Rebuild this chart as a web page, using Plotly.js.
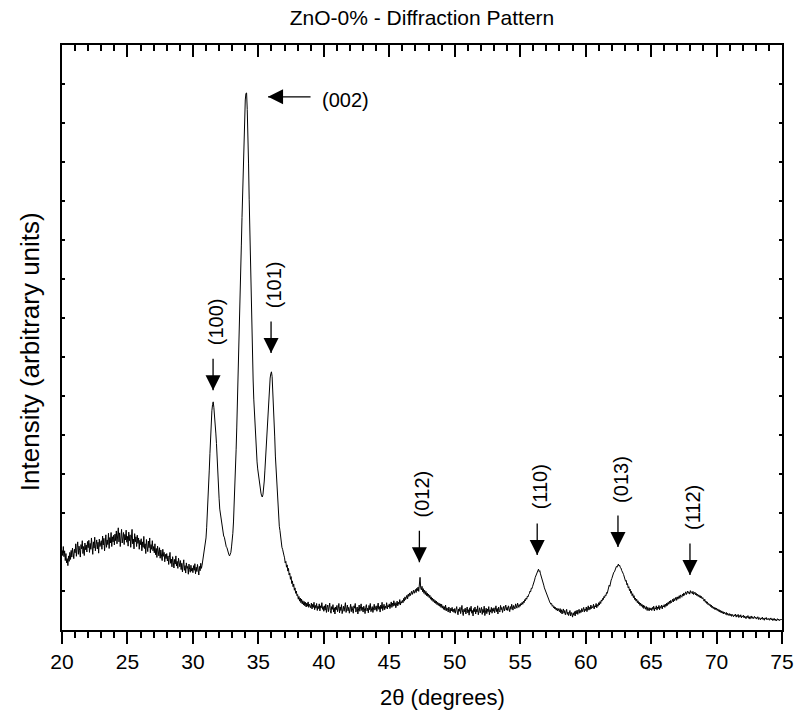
<!DOCTYPE html>
<html>
<head>
<meta charset="utf-8">
<script src="https://cdn.plot.ly/plotly-3.0.1.min.js"></script>
<style>html,body{margin:0;padding:0;background:#fff;}#chart{width:795px;height:720px;}</style>
</head>
<body>
<div id="chart"></div>
<script>
// Sampling grid of the diffraction scan (degrees 2-theta)
const twoThetaStart = 20;
const twoThetaStep = 0.05;

// Intensity (arbitrary units), one row per degree (x.00 ... x.95)
const intensity = [
  205, 191, 214, 188, 203, 178, 196, 172, 183, 165, 190, 176, 199, 181, 204, 187, 210, 192, 183, 207, // 20
  198, 221, 189, 212, 226, 194, 215, 203, 187, 219, 208, 229, 196, 214, 191, 223, 206, 218, 200, 227, // 21
  211, 230, 199, 222, 207, 236, 215, 194, 226, 210, 238, 203, 219, 231, 208, 225, 197, 233, 214, 221, // 22
  229, 207, 241, 218, 235, 203, 226, 244, 212, 231, 219, 248, 209, 237, 223, 250, 214, 239, 226, 243, // 23
  218, 246, 229, 254, 221, 237, 262, 226, 249, 214, 241, 258, 223, 236, 250, 219, 245, 231, 256, 225, // 24
  240, 215, 251, 229, 244, 212, 237, 258, 221, 233, 208, 247, 226, 239, 214, 243, 222, 236, 207, 230, // 25
  219, 234, 203, 226, 212, 240, 209, 221, 196, 232, 215, 201, 228, 211, 236, 198, 219, 207, 229, 203, // 26
  214, 198, 221, 193, 209, 186, 215, 202, 190, 211, 184, 205, 196, 178, 207, 189, 199, 175, 194, 183, // 27
  196, 177, 190, 168, 185, 199, 171, 182, 162, 188, 174, 159, 181, 169, 190, 164, 176, 158, 184, 170, // 28
  162, 178, 155, 171, 149, 167, 180, 153, 165, 146, 172, 158, 163, 143, 169, 155, 148, 166, 151, 159, // 29
  147, 165, 153, 170, 144, 161, 150, 168, 157, 141, 163, 152, 171, 158, 166, 176, 192, 203, 215, 224, // 30
  236, 262, 292, 325, 365, 410, 452, 497, 535, 562, 578, 585, 571, 552, 540, 505, 478, 430, 402, 368, // 31
  338, 310, 299, 279, 272, 256, 252, 241, 238, 227, 224, 213, 211, 202, 203, 193, 190, 196, 199, 213, // 32
  226, 248, 277, 315, 359, 408, 462, 518, 577, 635, 692, 770, 846, 915, 987, 1058, 1128, 1192, 1256, 1310, // 33
  1359, 1376, 1377, 1335, 1282, 1195, 1103, 1010, 923, 842, 769, 700, 641, 592, 551, 515, 482, 455, 431, 413, // 34
  397, 383, 372, 360, 351, 344, 341, 347, 359, 382, 410, 441, 474, 512, 551, 582, 608, 630, 646, 657, // 35
  662, 650, 619, 585, 536, 495, 446, 410, 369, 344, 310, 293, 266, 255, 235, 229, 212, 207, 194, 192, // 36
  185, 172, 176, 161, 167, 151, 158, 141, 146, 130, 137, 119, 126, 111, 118, 102, 108, 94, 100, 88,   // 37
  91, 79, 86, 74, 82, 70, 79, 67, 75, 64, 73, 62, 71, 59, 69, 61, 72, 58, 66, 63,                     // 38
  57, 69, 54, 66, 58, 71, 52, 63, 56, 68, 50, 61, 55, 67, 49, 62, 57, 70, 53, 60,                     // 39
  48, 62, 51, 66, 45, 58, 64, 47, 55, 69, 50, 43, 60, 53, 65, 46, 57, 41, 59, 52,                     // 40
  63, 47, 56, 68, 44, 59, 50, 65, 42, 54, 61, 48, 57, 70, 45, 52, 64, 49, 58, 43,                     // 41
  55, 66, 47, 60, 51, 43, 62, 56, 68, 46, 53, 59, 41, 57, 64, 48, 55, 67, 50, 58,                     // 42
  46, 61, 54, 42, 58, 65, 49, 56, 44, 63, 52, 68, 47, 55, 60, 45, 57, 66, 51, 59,                     // 43
  62, 48, 57, 69, 53, 60, 46, 64, 55, 71, 50, 58, 66, 52, 61, 56, 70, 54, 63, 59,                     // 44
  67, 55, 64, 72, 58, 69, 61, 75, 63, 70, 57, 68, 74, 62, 71, 66, 78, 64, 73, 69,                     // 45
  76, 70, 81, 74, 85, 78, 83, 89, 80, 92, 86, 95, 88, 93, 99, 91, 97, 102, 94, 100,                   // 46
  104, 96, 107, 101, 110, 99, 113, 135, 108, 103, 112, 98, 106, 94, 102, 91, 99, 88, 95, 86,          // 47
  92, 83, 89, 79, 85, 76, 82, 73, 79, 70, 76, 68, 74, 65, 71, 63, 69, 61, 67, 58,                     // 48
  66, 56, 62, 53, 60, 51, 64, 49, 57, 54, 46, 59, 52, 44, 56, 49, 58, 47, 53, 45,                     // 49
  55, 43, 52, 60, 46, 39, 54, 48, 58, 42, 51, 63, 45, 37, 53, 47, 56, 41, 50, 59,                     // 50
  44, 52, 38, 57, 48, 61, 43, 50, 36, 55, 47, 59, 41, 53, 46, 62, 39, 51, 57, 44,                     // 51
  49, 58, 40, 53, 45, 61, 37, 50, 56, 42, 54, 47, 60, 39, 52, 46, 58, 43, 55, 48,                     // 52
  57, 44, 51, 62, 47, 55, 41, 59, 50, 46, 63, 52, 58, 45, 54, 61, 49, 56, 64, 51,                     // 53
  58, 50, 62, 55, 47, 60, 53, 66, 57, 51, 63, 58, 54, 67, 60, 56, 69, 62, 58, 65,                     // 54
  61, 68, 64, 71, 66, 74, 70, 78, 75, 82, 79, 87, 85, 91, 93, 100, 98, 107, 106, 112,                 // 55
  116, 124, 128, 135, 139, 146, 148, 153, 156, 150, 152, 144, 139, 133, 127, 120, 115, 108, 103, 97,  // 56
  92, 86, 84, 79, 77, 72, 70, 66, 68, 61, 63, 57, 60, 54, 58, 51, 56, 49, 55, 52,                     // 57
  47, 55, 44, 52, 41, 49, 54, 43, 50, 39, 47, 53, 40, 46, 37, 44, 50, 36, 45, 41,                     // 58
  33, 44, 38, 47, 36, 49, 42, 51, 40, 48, 53, 43, 50, 45, 55, 47, 52, 58, 46, 54,                     // 59
  50, 59, 47, 56, 62, 51, 58, 53, 64, 55, 60, 57, 66, 54, 62, 59, 68, 57, 65, 61,                     // 60
  70, 64, 73, 68, 77, 74, 81, 78, 86, 83, 90, 88, 96, 94, 103, 106, 115, 112, 124, 128,               // 61
  132, 139, 141, 148, 149, 155, 157, 163, 161, 167, 169, 164, 166, 160, 159, 153, 151, 146, 142, 137, // 62
  136, 125, 127, 116, 119, 108, 111, 101, 105, 94, 99, 88, 93, 83, 88, 78, 82, 74, 79, 70,            // 63
  75, 67, 71, 63, 69, 61, 66, 58, 64, 55, 62, 57, 53, 60, 50, 58, 54, 49, 57, 52,                     // 64
  56, 50, 58, 53, 61, 49, 57, 54, 62, 51, 59, 55, 63, 52, 60, 57, 64, 54, 62, 59,                     // 65
  65, 58, 66, 61, 69, 63, 71, 66, 74, 68, 76, 70, 73, 79, 72, 81, 75, 78, 84, 76,                     // 66
  85, 79, 83, 88, 81, 90, 86, 84, 92, 87, 95, 89, 93, 98, 91, 96, 100, 94, 97, 92,                    // 67
  101, 96, 98, 93, 99, 91, 95, 97, 90, 94, 88, 92, 86, 90, 84, 88, 82, 86, 80, 83,                    // 68
  78, 74, 79, 71, 74, 68, 72, 65, 68, 63, 66, 60, 64, 57, 61, 55, 59, 53, 57, 52,                     // 69
  56, 50, 54, 48, 52, 46, 50, 44, 49, 43, 47, 41, 46, 44, 40, 45, 38, 43, 40, 37,                     // 70
  42, 37, 41, 35, 40, 38, 34, 39, 36, 41, 33, 38, 35, 40, 32, 37, 34, 39, 31, 36,                     // 71
  34, 38, 31, 36, 33, 29, 35, 32, 37, 30, 34, 28, 33, 36, 30, 34, 29, 32, 35, 30,                     // 72
  33, 28, 31, 34, 27, 32, 29, 26, 31, 28, 33, 27, 30, 25, 31, 28, 32, 26, 29, 27,                     // 73
  30, 25, 28, 31, 26, 29, 24, 27, 30, 25, 28, 23, 27, 29, 25, 28, 24, 27, 26, 28,                     // 74
  26                                                                                                  // 75
];

// Peak labels (vertical arrows) and their arrow-tip positions
const peakLabels = ['(100)', '(101)', '(012)', '(110)', '(013)', '(112)'];
const peakX      = [31.54, 35.97, 47.3, 56.3, 62.47, 67.97];
const peakTipY   = [615, 710, 174, 192, 213, 141];

// The (002) reflection, labelled with a horizontal arrow
const mainLabel = '(002)';
const mainTipX = 35.74;
const mainTipY = 1367;

// Texts
const chartTitle = 'ZnO-0% - Diffraction Pattern';
const xTitle = '2θ (degrees)';
const yTitle = 'Intensity (arbitrary units)';

const twoTheta = intensity.map((_, i) => +(twoThetaStart + i * twoThetaStep).toFixed(2));

const FONT = 'Liberation Sans, Arial, Helvetica, sans-serif';

const traces = [
  {
    x: twoTheta, y: intensity, type: 'scatter', mode: 'lines',
    line: {color: '#000', width: 1}, hoverinfo: 'skip', showlegend: false
  },
  {
    // same scan on the mirrored top axis (transparent) so that axis is drawn
    x: twoTheta, y: intensity, type: 'scatter', mode: 'lines', xaxis: 'x2', yaxis: 'y',
    line: {color: 'rgba(0,0,0,0)', width: 0}, opacity: 0, hoverinfo: 'skip', showlegend: false
  },
  {
    x: peakX, y: peakTipY, type: 'scatter', mode: 'markers',
    marker: {symbol: 'arrow-down', size: 15, color: '#000', line: {width: 0}},
    showlegend: false, hoverinfo: 'skip', cliponaxis: false
  },
  {
    x: [mainTipX], y: [mainTipY], type: 'scatter', mode: 'markers',
    marker: {symbol: 'arrow-left', size: 15, color: '#000', line: {width: 0}},
    showlegend: false, hoverinfo: 'skip', cliponaxis: false
  }
];

const annotations = [];
peakLabels.forEach((lab, i) => {
  annotations.push({
    x: peakX[i], y: peakTipY[i], xref: 'x', yref: 'y', text: '',
    showarrow: true, arrowhead: 0, arrowwidth: 1.3, arrowcolor: '#000',
    ax: 0, ay: -33
  });
  annotations.push({
    x: peakX[i], y: peakTipY[i], xref: 'x', yref: 'y', text: lab,
    showarrow: false, textangle: -90, yshift: 68, xshift: 3,
    font: {family: FONT, size: 20, color: '#000'}
  });
});
annotations.push({
  x: mainTipX, y: mainTipY, xref: 'x', yref: 'y', text: '',
  showarrow: true, arrowhead: 0, arrowwidth: 1.3, arrowcolor: '#000',
  ax: 44, ay: 0
});
annotations.push({
  x: mainTipX, y: mainTipY, xref: 'x', yref: 'y', text: mainLabel,
  showarrow: false, xanchor: 'left', xshift: 52, yshift: -3,
  font: {family: FONT, size: 20, color: '#000'}
});
// axis titles (placed as in the reference)
annotations.push({
  xref: 'paper', yref: 'paper', x: 0.529, y: -0.115, xanchor: 'center', yanchor: 'middle',
  text: xTitle, showarrow: false, font: {family: FONT, size: 22, color: '#000'}
});
annotations.push({
  xref: 'paper', yref: 'paper', x: -0.045, y: 0.476, xanchor: 'center', yanchor: 'middle',
  text: yTitle, textangle: -90, showarrow: false, font: {family: FONT, size: 26, color: '#000'}
});

const layout = {
  width: 795, height: 720,
  margin: {l: 62, r: 13, t: 45, b: 90},
  paper_bgcolor: '#fff', plot_bgcolor: '#fff',
  font: {family: FONT, color: '#000'},
  showlegend: false,
  title: {
    text: chartTitle,
    font: {family: FONT, size: 21, color: '#000'},
    x: 0.5, xref: 'paper', xanchor: 'center',
    y: 0.975, yref: 'container', yanchor: 'middle'
  },
  xaxis: {
    range: [20, 75], tick0: 20, dtick: 5,
    ticks: 'outside', ticklen: 12, tickwidth: 2, tickcolor: '#000',
    showline: true, linewidth: 2, linecolor: '#000', mirror: true,
    showgrid: false, zeroline: false,
    tickfont: {family: FONT, size: 21, color: '#000'},
    minor: {dtick: 1, ticks: 'outside', ticklen: 6, tickwidth: 2, tickcolor: '#000', showgrid: false}
  },
  xaxis2: {
    overlaying: 'x', side: 'top', anchor: 'y',
    range: [20, 75], tick0: 20, dtick: 5,
    ticks: 'inside', ticklen: 12, tickwidth: 2, tickcolor: '#000',
    showticklabels: false,
    showline: true, linewidth: 2, linecolor: '#000',
    showgrid: false, zeroline: false,
    minor: {dtick: 1, ticks: 'inside', ticklen: 6, tickwidth: 2, tickcolor: '#000', showgrid: false}
  },
  yaxis: {
    range: [0, 1500], tick0: 0, dtick: 100,
    ticks: 'inside', ticklen: 3, tickwidth: 1.5, tickcolor: '#000',
    showticklabels: false,
    showline: true, linewidth: 2, linecolor: '#000', mirror: 'ticks',
    showgrid: false, zeroline: false
  },
  annotations: annotations
};

Plotly.newPlot('chart', traces, layout, {displayModeBar: false, staticPlot: true});
</script>
</body>
</html>
